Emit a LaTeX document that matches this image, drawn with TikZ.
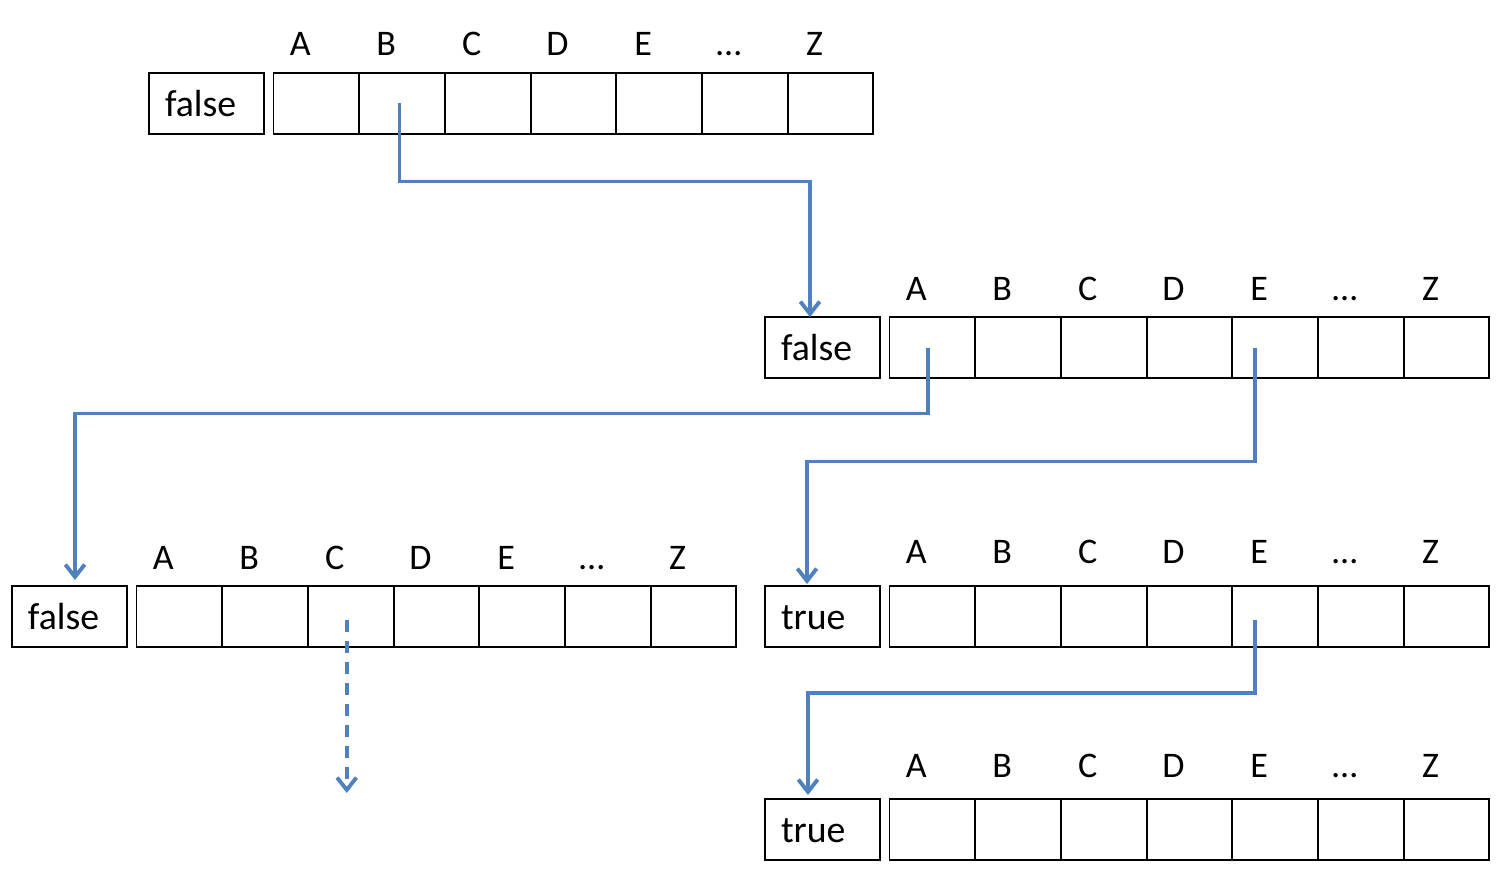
\documentclass[tikz,border=0pt]{standalone}
\usepackage{fontspec}
\setmainfont{Carlito}
\usetikzlibrary{positioning, arrows.meta}
\definecolor{ptrblue}{HTML}{4F81BD}

\tikzset{
	flag/.style={draw, line width=1.1pt, minimum width=2.3cm, minimum height=1.22cm, inner xsep=0.32cm, outer sep=0pt, text width=1.66cm, align=left, text height=0.52cm, text depth=0pt, font=\fontsize{21.5}{24}\selectfont},
	cell/.style={draw, line width=1.1pt, minimum width=1.714cm, minimum height=1.22cm, inner sep=0pt, outer sep=0pt},
	letter/.style={anchor=base, inner sep=0pt, font=\fontsize{20.5}{24}\selectfont},
	link/.style={draw=ptrblue, line width=2.2pt, -{Straight Barb[length=7pt, width=11pt]}},
}

\begin{document}
\begin{tikzpicture}
	\useasboundingbox (0,0) rectangle (30.02,-17.44);
	
	\foreach \row/\x/\y/\txt/\g in {r1/4.13/-2.07/false/0.34, r2/16.45/-6.95/false/0.34, r3l/1.39/-12.33/false/0.34, r3r/16.45/-12.33/true/0.45, r4/16.45/-16.59/true/0.44} {
		\node[flag] (\row-f) at (\x,\y) {\txt};
		\node[cell, right=0.19cm of \row-f] (\row-1) {};
		\foreach \i [evaluate=\i as \p using int(\i-1)] in {2,...,7}
			\node[cell, right=0pt of \row-\p] (\row-\i) {};
		\foreach \l [count=\i] in {A,B,C,D,E,\dots,Z}
			\node[letter] (\row-l\i) at ([shift={(-0.32cm,\g cm)}]\row-\i.north) {\l};
	}
	
	\coordinate (r3l-end) at ([xshift=-0.08cm, yshift=-3.53cm]r3l-3.center);
	
	\draw[link] ([xshift=-0.05cm]r1-2.center) -- ++(0,-1.56) -| ([xshift=-0.25cm]r2-f.north);
	\draw[link, shorten >=0.12cm] ([xshift=-0.08cm]r2-1.center) -- ++(0,-1.32) -| ([xshift=0.11cm]r3l-f.north);
	\draw[link, shorten >=0.04cm] ([xshift=-0.4cm]r2-5.center) -- ++(0,-2.28) -| ([xshift=-0.31cm]r3r-f.north);
	\draw[link, shorten >=0.08cm] ([xshift=-0.4cm, yshift=-0.07cm]r3r-5.center) -- ++(0,-1.46) -| ([xshift=-0.29cm]r4-f.north);
	\draw[link, dash pattern=on 0.24cm off 0.18cm] ([xshift=-0.08cm, yshift=-0.07cm]r3l-3.center) -- (r3l-end);
\end{tikzpicture}
\end{document}
